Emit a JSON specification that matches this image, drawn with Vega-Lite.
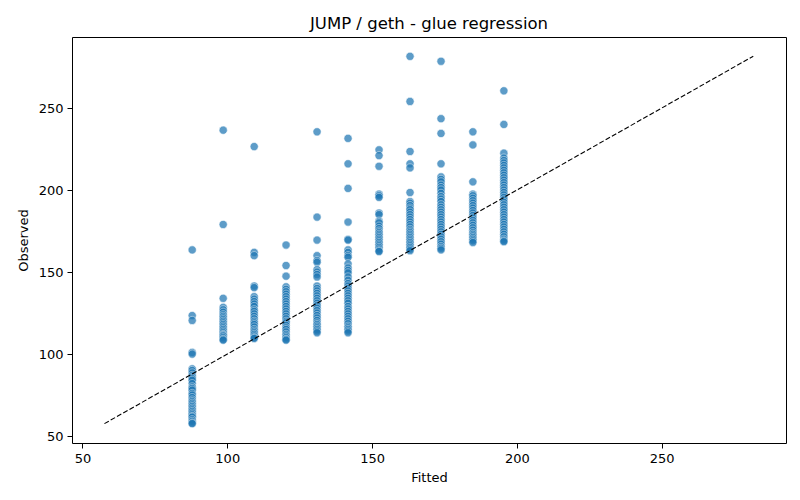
{
  "$schema": "https://vega.github.io/schema/vega-lite/v6.json",
  "width": 714,
  "height": 406,
  "autosize": {"type": "none"},
  "padding": {"left": 72, "top": 37, "right": 14, "bottom": 57},
  "background": "white",
  "title": {
    "text": "JUMP / geth - glue regression",
    "font": "DejaVu Sans",
    "fontSize": 16.5,
    "fontWeight": "normal",
    "color": "black",
    "offset": 5
  },
  "datasets": {
    "points": [
      {"f":87.9,"o":163.5},{"f":87.9,"o":123.5},{"f":87.9,"o":120.5},{"f":87.9,"o":101},{"f":87.9,"o":100},
      {"f":87.9,"o":91},{"f":87.9,"o":90},{"f":87.9,"o":88.5},{"f":87.9,"o":87},{"f":87.9,"o":86},
      {"f":87.9,"o":85},{"f":87.9,"o":84},{"f":87.9,"o":82},{"f":87.9,"o":80},{"f":87.9,"o":79},
      {"f":87.9,"o":78},{"f":87.9,"o":76},{"f":87.9,"o":75},{"f":87.9,"o":73.5},{"f":87.9,"o":72},
      {"f":87.9,"o":71},{"f":87.9,"o":70},{"f":87.9,"o":69},{"f":87.9,"o":68},{"f":87.9,"o":67},
      {"f":87.9,"o":66},{"f":87.9,"o":65},{"f":87.9,"o":64},{"f":87.9,"o":63},{"f":87.9,"o":62},
      {"f":87.9,"o":61.5},{"f":87.9,"o":60},{"f":87.9,"o":59},{"f":87.9,"o":58},{"f":87.9,"o":57.6},
      {"f":98.6,"o":236.5},{"f":98.6,"o":179},{"f":98.6,"o":134},{"f":98.6,"o":128.5},{"f":98.6,"o":127},
      {"f":98.6,"o":125.5},{"f":98.6,"o":124},{"f":98.6,"o":123},{"f":98.6,"o":122},{"f":98.6,"o":121},
      {"f":98.6,"o":120},{"f":98.6,"o":119},{"f":98.6,"o":118},{"f":98.6,"o":117},{"f":98.6,"o":116},
      {"f":98.6,"o":115},{"f":98.6,"o":114},{"f":98.6,"o":113},{"f":98.6,"o":112},{"f":98.6,"o":111.5},
      {"f":98.6,"o":111},{"f":98.6,"o":110},{"f":98.6,"o":109},{"f":98.6,"o":108.5},
      {"f":109.3,"o":226.5},{"f":109.3,"o":162},{"f":109.3,"o":160},{"f":109.3,"o":141.5},{"f":109.3,"o":140.5},
      {"f":109.3,"o":135},{"f":109.3,"o":133.5},{"f":109.3,"o":132},{"f":109.3,"o":130.5},{"f":109.3,"o":129},
      {"f":109.3,"o":127},{"f":109.3,"o":126},{"f":109.3,"o":124.5},{"f":109.3,"o":123},{"f":109.3,"o":121.5},
      {"f":109.3,"o":120},{"f":109.3,"o":119},{"f":109.3,"o":118},{"f":109.3,"o":116.5},{"f":109.3,"o":115},
      {"f":109.3,"o":114},{"f":109.3,"o":113},{"f":109.3,"o":112},{"f":109.3,"o":111},{"f":109.3,"o":110},
      {"f":109.3,"o":109.5},
      {"f":120.3,"o":166.5},{"f":120.3,"o":154},{"f":120.3,"o":147.5},{"f":120.3,"o":141},{"f":120.3,"o":139.5},
      {"f":120.3,"o":138},{"f":120.3,"o":136.5},{"f":120.3,"o":135},{"f":120.3,"o":133.5},{"f":120.3,"o":132},
      {"f":120.3,"o":130.5},{"f":120.3,"o":129},{"f":120.3,"o":127.5},{"f":120.3,"o":126},{"f":120.3,"o":124.5},
      {"f":120.3,"o":123},{"f":120.3,"o":121.5},{"f":120.3,"o":120},{"f":120.3,"o":119},{"f":120.3,"o":117.5},
      {"f":120.3,"o":116},{"f":120.3,"o":115},{"f":120.3,"o":113.5},{"f":120.3,"o":112},{"f":120.3,"o":111},
      {"f":120.3,"o":110},{"f":120.3,"o":109},{"f":120.3,"o":108.5},
      {"f":131.0,"o":235.5},{"f":131.0,"o":183.5},{"f":131.0,"o":169.5},{"f":131.0,"o":160},{"f":131.0,"o":157},
      {"f":131.0,"o":156},{"f":131.0,"o":151.5},{"f":131.0,"o":150},{"f":131.0,"o":148.5},{"f":131.0,"o":147},
      {"f":131.0,"o":141.5},{"f":131.0,"o":140},{"f":131.0,"o":138.5},{"f":131.0,"o":137},{"f":131.0,"o":135.5},
      {"f":131.0,"o":134},{"f":131.0,"o":132.5},{"f":131.0,"o":131},{"f":131.0,"o":129.5},{"f":131.0,"o":128},
      {"f":131.0,"o":126.5},{"f":131.0,"o":125},{"f":131.0,"o":123.5},{"f":131.0,"o":122},{"f":131.0,"o":120.5},
      {"f":131.0,"o":119},{"f":131.0,"o":118},{"f":131.0,"o":117},{"f":131.0,"o":116},{"f":131.0,"o":115},
      {"f":131.0,"o":114},{"f":131.0,"o":113},
      {"f":141.7,"o":231.5},{"f":141.7,"o":216},{"f":141.7,"o":201},{"f":141.7,"o":180.5},{"f":141.7,"o":170},
      {"f":141.7,"o":169.5},{"f":141.7,"o":163.5},{"f":141.7,"o":162},{"f":141.7,"o":160},{"f":141.7,"o":159},
      {"f":141.7,"o":155},{"f":141.7,"o":152.5},{"f":141.7,"o":151},{"f":141.7,"o":149.5},{"f":141.7,"o":147},
      {"f":141.7,"o":145},{"f":141.7,"o":143},{"f":141.7,"o":141.5},{"f":141.7,"o":140},{"f":141.7,"o":138.5},
      {"f":141.7,"o":137},{"f":141.7,"o":135.5},{"f":141.7,"o":134},{"f":141.7,"o":132.5},{"f":141.7,"o":131},
      {"f":141.7,"o":129},{"f":141.7,"o":127.5},{"f":141.7,"o":126},{"f":141.7,"o":124.5},{"f":141.7,"o":123},
      {"f":141.7,"o":121.5},{"f":141.7,"o":120},{"f":141.7,"o":118.5},{"f":141.7,"o":117},{"f":141.7,"o":116},
      {"f":141.7,"o":115},{"f":141.7,"o":114},{"f":141.7,"o":113},
      {"f":152.4,"o":224.5},{"f":152.4,"o":221},{"f":152.4,"o":214.5},{"f":152.4,"o":197.5},{"f":152.4,"o":196.5},
      {"f":152.4,"o":195.5},{"f":152.4,"o":186},{"f":152.4,"o":185},{"f":152.4,"o":181},{"f":152.4,"o":180},
      {"f":152.4,"o":178},{"f":152.4,"o":176.5},{"f":152.4,"o":175},{"f":152.4,"o":174},{"f":152.4,"o":173},
      {"f":152.4,"o":172},{"f":152.4,"o":171},{"f":152.4,"o":170},{"f":152.4,"o":169},{"f":152.4,"o":168},
      {"f":152.4,"o":167},{"f":152.4,"o":166},{"f":152.4,"o":165},{"f":152.4,"o":164},{"f":152.4,"o":163},
      {"f":152.4,"o":162.5},
      {"f":163.1,"o":281.5},{"f":163.1,"o":254},{"f":163.1,"o":223.5},{"f":163.1,"o":216},{"f":163.1,"o":213.5},
      {"f":163.1,"o":198.5},{"f":163.1,"o":193},{"f":163.1,"o":192},{"f":163.1,"o":190.5},{"f":163.1,"o":189},
      {"f":163.1,"o":188},{"f":163.1,"o":186.5},{"f":163.1,"o":185},{"f":163.1,"o":183.5},{"f":163.1,"o":182},
      {"f":163.1,"o":180.5},{"f":163.1,"o":179},{"f":163.1,"o":177.5},{"f":163.1,"o":176},{"f":163.1,"o":175},
      {"f":163.1,"o":174},{"f":163.1,"o":173},{"f":163.1,"o":172},{"f":163.1,"o":171},{"f":163.1,"o":170},
      {"f":163.1,"o":169},{"f":163.1,"o":168},{"f":163.1,"o":167},{"f":163.1,"o":166},{"f":163.1,"o":165},
      {"f":163.1,"o":164},{"f":163.1,"o":163},
      {"f":173.8,"o":278.5},{"f":173.8,"o":243.5},{"f":173.8,"o":234.5},{"f":173.8,"o":216},{"f":173.8,"o":208},
      {"f":173.8,"o":206.5},{"f":173.8,"o":205},{"f":173.8,"o":203},{"f":173.8,"o":201.5},{"f":173.8,"o":200},
      {"f":173.8,"o":198},{"f":173.8,"o":196},{"f":173.8,"o":194.5},{"f":173.8,"o":193},{"f":173.8,"o":191},
      {"f":173.8,"o":189.5},{"f":173.8,"o":188},{"f":173.8,"o":186.5},{"f":173.8,"o":185},{"f":173.8,"o":183.5},
      {"f":173.8,"o":182},{"f":173.8,"o":180.5},{"f":173.8,"o":179},{"f":173.8,"o":177.5},{"f":173.8,"o":176},
      {"f":173.8,"o":174.5},{"f":173.8,"o":173},{"f":173.8,"o":171.5},{"f":173.8,"o":170},{"f":173.8,"o":168.5},
      {"f":173.8,"o":167},{"f":173.8,"o":165.5},{"f":173.8,"o":164.5},{"f":173.8,"o":163.5},
      {"f":184.8,"o":235.5},{"f":184.8,"o":227.5},{"f":184.8,"o":205},{"f":184.8,"o":197.5},{"f":184.8,"o":196.5},
      {"f":184.8,"o":195},{"f":184.8,"o":193.5},{"f":184.8,"o":192},{"f":184.8,"o":190.5},{"f":184.8,"o":189},
      {"f":184.8,"o":187.5},{"f":184.8,"o":186},{"f":184.8,"o":184.5},{"f":184.8,"o":183},{"f":184.8,"o":181.5},
      {"f":184.8,"o":180},{"f":184.8,"o":178.5},{"f":184.8,"o":177},{"f":184.8,"o":175.5},{"f":184.8,"o":174},
      {"f":184.8,"o":173},{"f":184.8,"o":172},{"f":184.8,"o":171},{"f":184.8,"o":170},{"f":184.8,"o":169},
      {"f":184.8,"o":168},
      {"f":195.5,"o":260.5},{"f":195.5,"o":240},{"f":195.5,"o":222.5},{"f":195.5,"o":219.5},{"f":195.5,"o":218},
      {"f":195.5,"o":216.5},{"f":195.5,"o":215},{"f":195.5,"o":213.5},{"f":195.5,"o":212},{"f":195.5,"o":210.5},
      {"f":195.5,"o":209},{"f":195.5,"o":207.5},{"f":195.5,"o":206},{"f":195.5,"o":204.5},{"f":195.5,"o":203},
      {"f":195.5,"o":201.5},{"f":195.5,"o":200},{"f":195.5,"o":198.5},{"f":195.5,"o":197},{"f":195.5,"o":195.5},
      {"f":195.5,"o":194},{"f":195.5,"o":192.5},{"f":195.5,"o":191},{"f":195.5,"o":189.5},{"f":195.5,"o":188},
      {"f":195.5,"o":186.5},{"f":195.5,"o":185},{"f":195.5,"o":183.5},{"f":195.5,"o":182},{"f":195.5,"o":180.5},
      {"f":195.5,"o":179},{"f":195.5,"o":177.5},{"f":195.5,"o":176},{"f":195.5,"o":174.5},{"f":195.5,"o":173},
      {"f":195.5,"o":171.5},{"f":195.5,"o":170},{"f":195.5,"o":169},{"f":195.5,"o":168.5}
    ],
    "diag": [{"v": 57.6}, {"v": 281.6}]
  },
  "layer": [
    {
      "data": {"name": "points"},
      "mark": {
        "type": "circle",
        "size": 68,
        "color": "#1f77b4",
        "opacity": 0.72,
        "stroke": "white",
        "strokeWidth": 0.6
      },
      "encoding": {
        "x": {
          "field": "f",
          "type": "quantitative",
          "title": "Fitted",
          "scale": {"domain": [46.4, 292.9], "nice": false, "zero": false},
          "axis": {"values": [50, 100, 150, 200, 250]}
        },
        "y": {
          "field": "o",
          "type": "quantitative",
          "title": "Observed",
          "scale": {"domain": [45.8, 293.3], "nice": false, "zero": false},
          "axis": {"values": [50, 100, 150, 200, 250]}
        }
      }
    },
    {
      "data": {"name": "diag"},
      "mark": {"type": "line", "color": "black", "strokeWidth": 1.1, "strokeDash": [5, 2.2]},
      "encoding": {
        "x": {"field": "v", "type": "quantitative"},
        "y": {"field": "v", "type": "quantitative"}
      }
    }
  ],
  "config": {
    "font": "DejaVu Sans",
    "view": {"stroke": "black", "strokeWidth": 1},
    "axis": {
      "grid": false,
      "domain": false,
      "tickColor": "black",
      "tickSize": 5,
      "tickWidth": 1,
      "labelFont": "DejaVu Sans",
      "labelFontSize": 13,
      "labelColor": "black",
      "labelPadding": 4,
      "titleFont": "DejaVu Sans",
      "titleFontSize": 13,
      "titleFontWeight": "normal",
      "titleColor": "black"
    },
    "axisX": {"titlePadding": 6},
    "axisY": {"titlePadding": 8}
  }
}
